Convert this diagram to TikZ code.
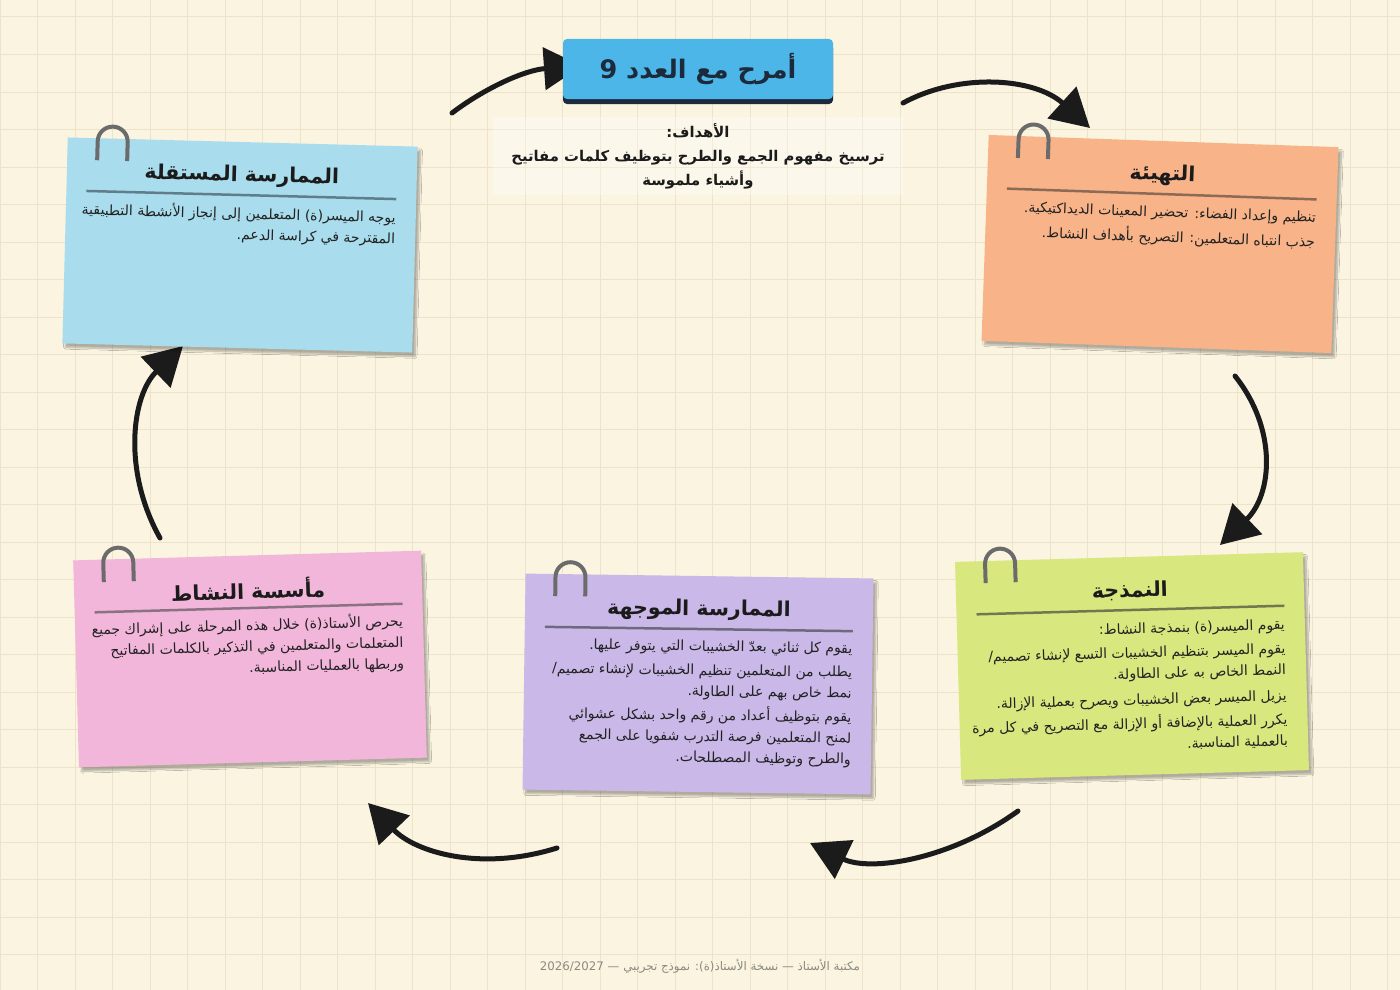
\documentclass[tikz,border=0pt]{standalone}
\usepackage{fontspec}
\usepackage{xcolor}
\usetikzlibrary{positioning}
\usetikzlibrary{arrows.meta}
\usetikzlibrary{shadows}
\usetikzlibrary{shadows.blur}
\TeXXeTstate=1
\newfontfamily\arabicfont[Script=Arabic]{DejaVu Sans}
\newcommand{\artxt}[1]{\beginR #1\endR}

\definecolor{paper}{HTML}{FAF4E1}
\definecolor{gridline}{HTML}{ECE3C8}
\definecolor{titleblue}{HTML}{4DB6E8}
\definecolor{titledark}{HTML}{1C2A3C}
\definecolor{inkdark}{HTML}{1B1B1B}
\definecolor{inkbody}{HTML}{222222}
\definecolor{clipgrey}{HTML}{6B6B6B}
\definecolor{footgrey}{HTML}{8C8A80}
\definecolor{bluenote}{HTML}{A9DCEC}
\definecolor{bluerule}{HTML}{5F7D8A}
\definecolor{orangenote}{HTML}{F8B488}
\definecolor{orangerule}{HTML}{8C6A55}
\definecolor{greennote}{HTML}{D9E87E}
\definecolor{greenrule}{HTML}{72774F}
\definecolor{purplenote}{HTML}{C9B8E8}
\definecolor{purplerule}{HTML}{6E6A7E}
\definecolor{pinknote}{HTML}{F2B6DA}
\definecolor{pinkrule}{HTML}{8A7283}

\begin{document}
\begin{tikzpicture}[x=1pt, y=-1pt,
    note/.style={rectangle, transform shape, inner sep=0pt,
        blur shadow={shadow xshift=3pt, shadow yshift=-4pt, shadow opacity=30, shadow blur steps=8}},
    notetitle/.style={transform shape, inner sep=0pt, text=inkdark,
        font=\arabicfont\bfseries\fontsize{20.5}{24}\selectfont},
    notebody/.style={transform shape, inner sep=0pt, align=right, text=inkbody, anchor=north east,
        font=\arabicfont\fontsize{14}{21}\selectfont},
    noterule/.style={line width=2.5pt},
    clipline/.style={draw=clipgrey, line width=4pt},
    flow/.style={draw=inkdark, line width=5pt, line cap=round, -{Triangle[length=38pt, width=42pt]}},
    titlebox/.style={fill=titleblue, rounded corners=4pt, minimum width=270, minimum height=60,
        drop shadow={shadow xshift=0pt, shadow yshift=-5pt, opacity=1, fill=titledark},
        text=titledark, font=\arabicfont\bfseries\fontsize{25.5}{28}\selectfont},
    goalsbox/.style={fill=white, fill opacity=0.3, text opacity=1, inner xsep=18pt, inner ysep=6pt,
        align=center, text=inkdark, font=\arabicfont\bfseries\fontsize{14.8}{24}\selectfont},
    footer/.style={text=footgrey, font=\arabicfont\fontsize{11.8}{13}\selectfont}]

    \useasboundingbox (0,0) rectangle (1400,990);
    \fill[paper] (0,0) rectangle (1400,990);
    \foreach \gx in {0,37.5,...,1400} \draw[gridline, line width=1pt] (\gx,0) -- (\gx,990);
    \foreach \gy in {17,54.5,...,990} \draw[gridline, line width=1pt] (0,\gy) -- (1400,\gy);

    \coordinate (a1s) at (452,113);
    \coordinate (a1e) at (582,66);
    \coordinate (a2s) at (903,103);
    \coordinate (a2e) at (1090,128);
    \coordinate (a3s) at (1235,376);
    \coordinate (a3e) at (1220,545);
    \coordinate (a4s) at (1018,811);
    \coordinate (a4e) at (810,843);
    \coordinate (a5s) at (557,848);
    \coordinate (a5e) at (368,803);
    \coordinate (a6s) at (160,538);
    \coordinate (a6e) at (183,346);
    \draw[flow] (a1s) .. controls (485,88) and (525,70) .. (a1e);
    \draw[flow] (a2s) .. controls (960,72) and (1035,78) .. (a2e);
    \draw[flow] (a3s) .. controls (1278,430) and (1272,495) .. (a3e);
    \draw[flow] (a4s) .. controls (950,860) and (870,872) .. (a4e);
    \draw[flow] (a5s) .. controls (480,872) and (415,852) .. (a5e);
    \draw[flow] (a6s) .. controls (122,470) and (132,395) .. (a6e);

    \begin{scope}[shift={(240,245)}, rotate=-1.5]
        \node[note, fill=bluenote, minimum width=350, minimum height=206] (indep) {};
        \draw[clipline] (-145,-81) -- (-145,-100) arc (180:360:15) -- (-115,-81);
        \node[notetitle] (indepT) at (0,-69) {\artxt{الممارسة المستقلة}};
        \draw[noterule, bluerule] (-155,-50) -- (155,-50);
        \node[notebody] (indepB) at (155,-40) {\artxt{يوجه الميسر(ة) المتعلمين إلى إنجاز الأنشطة التطبيقية}\\
            \artxt{المقترحة في كراسة الدعم.}};
    \end{scope}

    \begin{scope}[shift={(1160,244)}, rotate=-2]
        \node[note, fill=orangenote, minimum width=350, minimum height=206] (prep) {};
        \draw[clipline] (-145,-81) -- (-145,-100) arc (180:360:15) -- (-115,-81);
        \node[notetitle] (prepT) at (0,-69) {\artxt{التهيئة}};
        \draw[noterule, orangerule] (-155,-50) -- (155,-50);
        \node[notebody] (prepB) at (155,-38) {\artxt{تنظيم وإعداد الفضاء: تحضير المعينات الديداكتيكية.}\\[4pt]
            \artxt{جذب انتباه المتعلمين: التصريح بأهداف النشاط.}};
    \end{scope}

    \begin{scope}[shift={(1132,666)}, rotate=1.6]
        \node[note, fill=greennote, minimum width=348, minimum height=218] (model) {};
        \draw[clipline] (-144,-87) -- (-144,-106) arc (180:360:15) -- (-114,-87);
        \node[notetitle] (modelT) at (0,-75) {\artxt{النمذجة}};
        \draw[noterule, greenrule] (-154,-56) -- (154,-56);
        \node[notebody] (modelB) at (154,-43) {\artxt{يقوم الميسر(ة) بنمذجة النشاط:}\\[3pt]
            \artxt{يقوم الميسر بتنظيم الخشيبات التسع لإنشاء تصميم/}\\
            \artxt{النمط الخاص به على الطاولة.}\\[5pt]
            \artxt{يزيل الميسر بعض الخشيبات ويصرح بعملية الإزالة.}\\[3pt]
            \artxt{يكرر العملية بالإضافة أو الإزالة مع التصريح في كل مرة}\\
            \artxt{بالعملية المناسبة.}};
    \end{scope}

    \begin{scope}[shift={(698,684)}, rotate=-0.8]
        \node[note, fill=purplenote, minimum width=348, minimum height=216] (guided) {};
        \draw[clipline] (-144,-86) -- (-144,-105) arc (180:360:15) -- (-114,-86);
        \node[notetitle] (guidedT) at (0,-74) {\artxt{الممارسة الموجهة}};
        \draw[noterule, purplerule] (-154,-55) -- (154,-55);
        \node[notebody] (guidedB) at (154,-44) {\artxt{يقوم كل ثنائي بعدّ الخشيبات التي يتوفر عليها.}\\[3pt]
            \artxt{يطلب من المتعلمين تنظيم الخشيبات لإنشاء تصميم/}\\
            \artxt{نمط خاص بهم على الطاولة.}\\[3pt]
            \artxt{يقوم بتوظيف أعداد من رقم واحد بشكل عشوائي}\\
            \artxt{لمنح المتعلمين فرصة التدرب شفويا على الجمع}\\
            \artxt{والطرح وتوظيف المصطلحات.}};
    \end{scope}

    \begin{scope}[shift={(250,659)}, rotate=1.6]
        \node[note, fill=pinknote, minimum width=348, minimum height=207] (inst) {};
        \draw[clipline] (-144,-81) -- (-144,-100) arc (180:360:15) -- (-114,-81);
        \node[notetitle] (instT) at (0,-70) {\artxt{مأسسة النشاط}};
        \draw[noterule, pinkrule] (-154,-51) -- (154,-51);
        \node[notebody] (instB) at (154,-42) {\artxt{يحرص الأستاذ(ة) خلال هذه المرحلة على إشراك جميع}\\
            \artxt{المتعلمات والمتعلمين في التذكير بالكلمات المفاتيح}\\
            \artxt{وربطها بالعمليات المناسبة.}};
    \end{scope}

    \node[titlebox] (title) at (698,69) {\artxt{أمرح مع العدد 9}};
    \node[goalsbox, below=18pt of title] (goals) {\artxt{الأهداف:}\\
        \artxt{ترسيخ مفهوم الجمع والطرح بتوظيف كلمات مفاتيح}\\
        \artxt{وأشياء ملموسة}};
    \node[footer] (foot) at (700,966) {\artxt{مكتبة الأستاذ — نسخة الأستاذ(ة): نموذج تجريبي — \beginL 2026/2027\endL}};
\end{tikzpicture}
\end{document}
